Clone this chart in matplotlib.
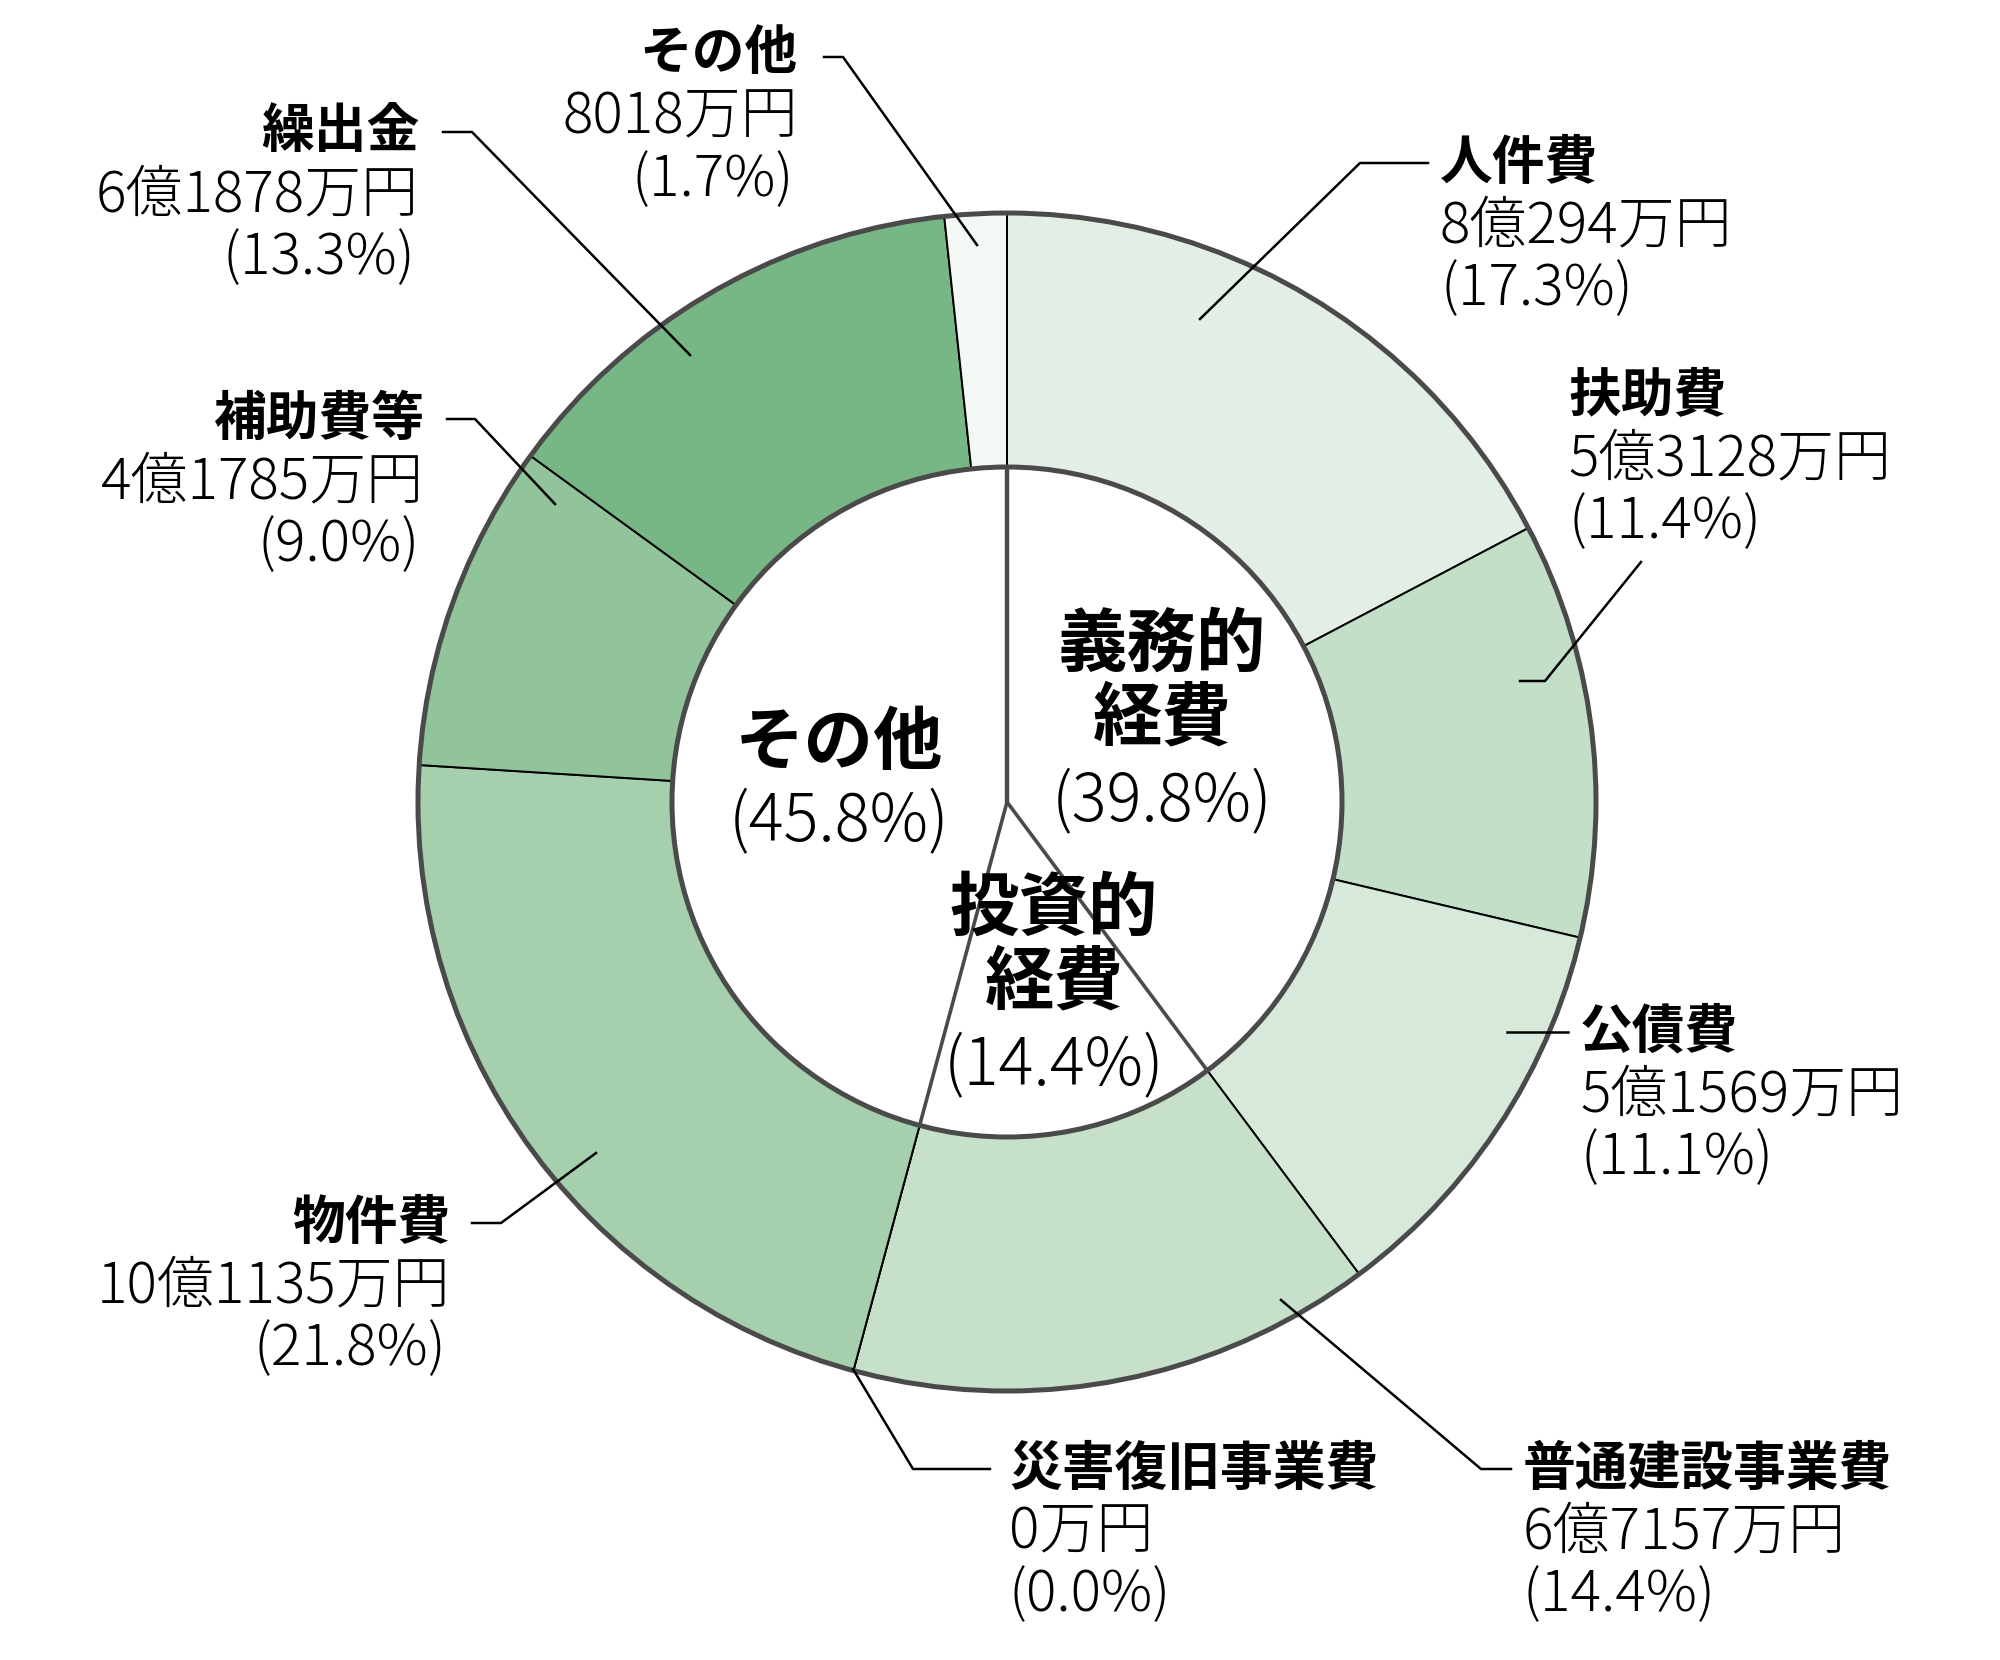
import math
import matplotlib.pyplot as plt

plt.rcParams['font.family'] = ['Noto Sans CJK JP', 'DejaVu Sans']

# 歳出の内訳 (時計回り、上から)
names = ["人件費", "扶助費", "公債費", "普通建設事業費", "災害復旧事業費",
         "物件費", "補助費等", "繰出金", "その他"]
amounts = ["8億294万円", "5億3128万円", "5億1569万円", "6億7157万円", "0万円",
           "10億1135万円", "4億1785万円", "6億1878万円", "8018万円"]
shares = [17.3, 11.4, 11.1, 14.4, 0.0, 21.8, 9.0, 13.3, 1.7]
colors = ["#e3eee5", "#c3dfc8", "#d6e9da", "#c6e0ca", "#c6e0ca",
          "#a6cfad", "#92c49b", "#77b786", "#f4f8f4"]

# 内側の区分
groups = ["義務的\n経費", "投資的\n経費", "その他"]
group_shares = [39.8, 14.4, 45.8]

W, H = 2000, 1660
CX, CY = 1007, 802
R_OUT, R_IN = 589, 335


def P(x, y):
    return x, H - y


fig = plt.figure(figsize=(20, 16.6), dpi=100)
ax = fig.add_axes([0, 0, 1, 1])

ax.pie(shares, colors=colors, startangle=90, counterclock=False,
       center=P(CX, CY), radius=R_OUT,
       wedgeprops=dict(width=R_OUT - R_IN, edgecolor="black", linewidth=1.4))

ax.set_xlim(0, W)
ax.set_ylim(0, H)
ax.set_aspect("equal")
ax.axis("off")

for r in (R_OUT, R_IN):
    ax.add_patch(plt.Circle(P(CX, CY), r, fill=False, edgecolor="#4a4a4a",
                            linewidth=3.6, zorder=5))

# 内側の区分線
cum = 0.0
for i, s in enumerate([0.0] + group_shares[:2]):
    cum += s
    ang = math.radians(90 - cum * 3.6)
    x2 = CX + R_IN * math.cos(ang)
    y2 = CY - R_IN * math.sin(ang)
    ax.plot([P(CX, CY)[0], P(x2, y2)[0]], [P(CX, CY)[1], P(x2, y2)[1]],
            color="#4a4a4a", linewidth=3.2 if i == 0 else 2.6, zorder=4,
            solid_capstyle="butt")

# 内側ラベル
group_pos = [(1162, 645), (1054, 909), (839, 744)]
for g, s, (x, y) in zip(groups, group_shares, group_pos):
    lines = g.split("\n")
    for k, line in enumerate(lines):
        ax.text(*P(x, y + k * 74), line, ha="center", va="center",
                fontsize=50, fontweight="bold", zorder=6)
    ax.text(*P(x, y + len(lines) * 79), f"({s:.1f}%)", ha="center",
            va="center", fontsize=47, fontweight="light", zorder=6)

# 外側ラベル: (x, y, ha, 引出線の折れ点)
label_pos = {
    "人件費": (1440, 163, "left", [(1428, 163), (1360, 163), (1200, 319)]),
    "扶助費": (1568, 396, "left", [(1641, 562), (1545, 681), (1520, 681)]),
    "公債費": (1580, 1032, "left", [(1568, 1032), (1507, 1032)]),
    "普通建設事業費": (1523, 1469, "left", [(1511, 1469), (1481, 1469), (1281, 1300)]),
    "災害復旧事業費": (1009, 1469, "left", [(990, 1469), (913, 1469), (853, 1369)]),
    "物件費": (450, 1223, "right", [(472, 1223), (501, 1223), (596, 1153)]),
    "補助費等": (424, 419, "right", [(447, 419), (475, 419), (555, 504)]),
    "繰出金": (419, 132, "right", [(443, 132), (472, 132), (690, 355)]),
    "その他": (798, 54, "right", [(824, 57), (843, 57), (977, 245)]),
}

for name, amt, s in zip(names, amounts, shares):
    x, y, ha, pts = label_pos[name]
    ax.text(*P(x, y), name, ha=ha, va="center", fontsize=38,
            fontweight="bold", zorder=6)
    ax.text(*P(x, y + 63), amt, ha=ha, va="center", fontsize=41,
            fontweight="light", zorder=6)
    pct = f"({s:.1f}%)"
    px = x - 4 if ha == "right" else x
    ax.text(*P(px, y + 126), pct, ha=ha, va="center", fontsize=41,
            fontweight="light", zorder=6)
    xs = [P(a, b)[0] for a, b in pts]
    ys = [P(a, b)[1] for a, b in pts]
    ax.plot(xs, ys, color="black", linewidth=1.8, zorder=6)

fig.savefig("out.png", dpi=100, facecolor="white")
